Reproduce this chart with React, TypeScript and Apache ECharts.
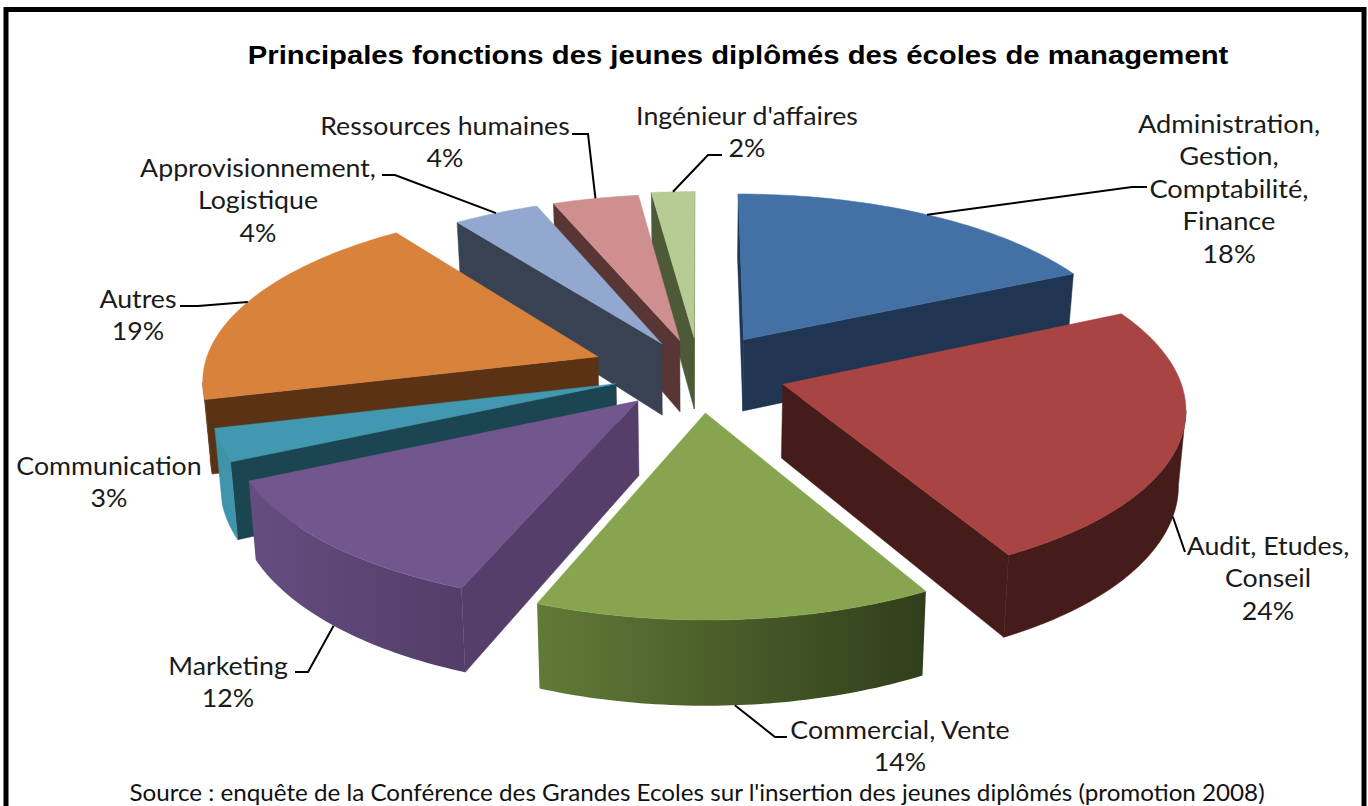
import React, { useEffect, useRef } from "react";
import * as echarts from "echarts";

const categories = [
  "Administration,\nGestion,\nComptabilité,\nFinance",
  "Audit, Etudes,\nConseil",
  "Commercial, Vente",
  "Marketing",
  "Communication",
  "Autres",
  "Approvisionnement,\nLogistique",
  "Ressources humaines",
  "Ingénieur d'affaires",
];
const values = [18, 24, 14, 12, 3, 19, 4, 4, 2];
const titleText = "Principales fonctions des jeunes diplômés des écoles de management";
const sourceText = "Source : enquête de la Conférence des Grandes Ecoles sur l'insertion des jeunes diplômés (promotion 2008)";

const topColors = ["#4371A6", "#A84442", "#87A44E", "#71578E", "#4198B0", "#D9823B", "#92A8CE", "#CE8F8E", "#B7CC93"];
const startWall = ["#1F3552", "#47201E", "#55704A", "#553F6A", "#1B4550", "#5A3214", "#394253", "#573635", "#4D5A37"];
const endWall = ["#1F3552", "#451C1A", "#3A4A20", "#553F6A", "#1B4550", "#5A3214", "#394253", "#573635", "#4D5A37"];
const arcWall: [string, string][] = [
  ["#1F3552", "#1F3552"],
  ["#451C1A", "#451C1A"],
  ["#627A38", "#303E1B"],
  ["#654D80", "#523E68"],
  ["#3F94AB", "#3F94AB"],
  ["#5A3214", "#5A3214"],
  ["#394253", "#394253"],
  ["#573635", "#573635"],
  ["#4D5A37", "#4D5A37"],
];
const paintOrder = [0, 8, 7, 6, 5, 4, 3, 1, 2];

// projection of the tilted pie
const CX = 690, CY = 371, RX = 395, RY = 171, PERSP = 0.119, DEPTH = 73, SHRINK = 0.985;
const explode = [0.25, 0.25, 0.25, 0.25, 0.25, 0.25, 0.2, 0.2, 0.2];
const nudge: [number, number][] = [[2, 4], [-2, 0], [9, -2], [17, -2], [20, -2], [0, 0], [9, 2], [9, 2], [9, 0]];

// layout of labels: centre x, first line y, x stretch, and leader elbow points
type Lab = { x: number; y: number; sx: number; anchor: "top" | "bottom" | null; elbows: [number, number][] };
const labels: Lab[] = [
  { x: 1229, y: 123, sx: 1.09, anchor: "top", elbows: [[1132, 187], [1147, 187]] },
  { x: 1268, y: 545, sx: 1.07, anchor: "bottom", elbows: [[1185, 552]] },
  { x: 900, y: 729, sx: 1.07, anchor: "bottom", elbows: [[775, 737], [787, 737]] },
  { x: 228, y: 665, sx: 1.07, anchor: "bottom", elbows: [[308, 672], [295, 672]] },
  { x: 109, y: 465, sx: 1.07, anchor: null, elbows: [] },
  { x: 138, y: 298, sx: 1.07, anchor: "top", elbows: [[198, 306], [180, 306]] },
  { x: 258, y: 167, sx: 1.07, anchor: "top", elbows: [[395, 175], [382, 175]] },
  { x: 445, y: 125, sx: 1.07, anchor: "top", elbows: [[588, 134], [572, 134]] },
  { x: 747, y: 115, sx: 1.07, anchor: "top", elbows: [[708, 155], [722, 155]] },
];

const total = values.reduce((a, b) => a + b, 0);
const cumul: number[] = [];
values.reduce((acc, v, i) => ((cumul[i] = acc), acc + v), 0);
const angleOf = (pct: number) => (pct / total) * Math.PI * 2;

function project(X: number, Y: number, low: boolean, n: [number, number]) {
  const s = 1 / (1 - PERSP * Y);
  const x = RX * X * s * (low ? SHRINK : 1);
  const y = RY * Y * s + (low ? DEPTH * s : 0);
  return [CX + x + n[0], CY + y + n[1]];
}

function sliceGeom(i: number) {
  const a0 = angleOf(cumul[i]);
  const a1 = angleOf(cumul[i] + values[i]);
  const mid = (a0 + a1) / 2;
  const ax = Math.sin(mid) * explode[i];
  const ay = -Math.cos(mid) * explode[i];
  const n = nudge[i];
  const pt = (a: number, low: boolean) => project(ax + Math.sin(a), ay - Math.cos(a), low, n);
  const apex = (low: boolean) => project(ax, ay, low, n);
  return { a0, a1, mid, pt, apex };
}

function renderSlice(params: any) {
  const i = paintOrder[params.dataIndex];
  const g = sliceGeom(i);
  const N = Math.max(8, Math.round((g.a1 - g.a0) * 60));
  const angles: number[] = [];
  for (let k = 0; k <= N; k++) angles.push(g.a0 + ((g.a1 - g.a0) * k) / N);
  const children: any[] = [];
  const A = g.apex(false);
  const M = g.pt(g.mid, false);
  const poly = (points: number[][], fill: any, stroke?: string) => ({
    type: "polygon",
    shape: { points },
    style: { fill, stroke: stroke || (typeof fill === "string" ? fill : undefined), lineWidth: 0.5 },
  });
  const radial = (a: number, color: string) => {
    const P = g.pt(a, false);
    const e = [P[0] - A[0], P[1] - A[1]];
    const crossDown = e[0];
    const crossMid = e[0] * (M[1] - A[1]) - e[1] * (M[0] - A[0]);
    if (crossDown * crossMid < 0) {
      children.push(poly([A, P, g.pt(a, true), g.apex(true)], color));
    }
  };
  radial(g.a0, startWall[i]);
  radial(g.a1, endWall[i]);
  const vis = angles.filter((a) => {
    const next = g.pt(a + 0.005, false);
    return next[0] < g.pt(a, false)[0];
  });
  if (vis.length > 1) {
    const upper = vis.map((a) => g.pt(a, false));
    const lower = vis.map((a) => g.pt(a, true)).reverse();
    const [c0, c1] = arcWall[i];
    children.push(
      c0 === c1
        ? poly(upper.concat(lower), c0)
        : poly(
            upper.concat(lower),
            new echarts.graphic.LinearGradient(0, 0, 1, 0, [
              { offset: 0, color: c0 },
              { offset: 1, color: c1 },
            ])
          )
    );
  }
  children.push(poly([A].concat(angles.map((a) => g.pt(a, false))), topColors[i]));
  return { type: "group", children };
}

function renderLabel(params: any) {
  const i = params.dataIndex;
  const lab = labels[i];
  const children: any[] = [];
  if (lab.anchor) {
    const g = sliceGeom(i);
    const P = g.pt(g.mid, lab.anchor === "bottom");
    children.push({
      type: "polyline",
      shape: { points: [P, ...lab.elbows] },
      style: { stroke: "#000", lineWidth: 2, fill: "none" },
    });
  }
  const lines = [...categories[i].split("\n"), `${values[i]}%`];
  lines.forEach((t, k) => {
    children.push({
      type: "text",
      x: lab.x,
      y: lab.y + k * 32.6,
      scaleX: lab.sx,
      style: {
        text: t,
        align: "center",
        verticalAlign: "middle",
        fontFamily: "Lato",
        fontSize: 25,
        fill: "#1a1a1a",
      },
    });
  });
  return { type: "group", children };
}

export default function App() {
  const ref = useRef<HTMLDivElement>(null);
  useEffect(() => {
    const chart = echarts.init(ref.current!, null, { renderer: "svg" });
    chart.setOption({
      animation: false,
      backgroundColor: "#fff",
      graphic: [
        { type: "rect", z: 0, shape: { x: 6, y: 9.5, width: 1358, height: 820 }, style: { fill: "none", stroke: "#000", lineWidth: 5 } },
        {
          type: "text",
          x: 738,
          y: 55,
          scaleX: 1.126,
          style: { text: titleText, align: "center", verticalAlign: "middle", fontFamily: "Liberation Sans", fontWeight: "bold", fontSize: 26, fill: "#000" },
        },
        {
          type: "text",
          x: 697,
          y: 792,
          scaleX: 1.052,
          style: { text: sourceText, align: "center", verticalAlign: "middle", fontFamily: "Lato", fontSize: 23, fill: "#111" },
        },
      ],
      series: [
        {
          type: "custom",
          coordinateSystem: "none",
          silent: true,
          clip: false,
          data: paintOrder.map((i) => values[i]),
          renderItem: renderSlice,
        },
        {
          type: "custom",
          coordinateSystem: "none",
          silent: true,
          clip: false,
          z: 5,
          data: values,
          renderItem: renderLabel,
        },
      ],
    });
    return () => chart.dispose();
  }, []);
  return <div ref={ref} style={{ position: "fixed", left: 0, top: 0, width: 1368, height: 806 }} />;
}
